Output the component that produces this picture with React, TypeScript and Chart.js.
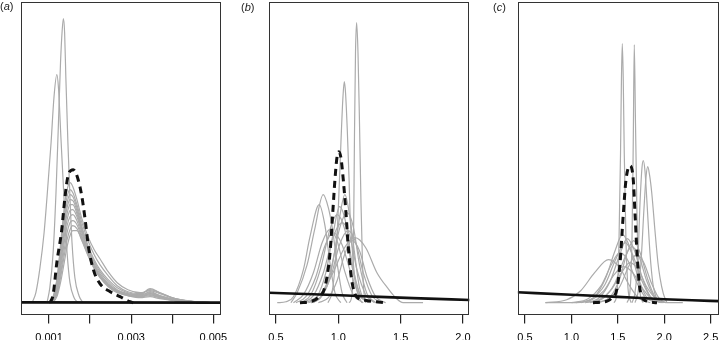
import React, { useEffect, useRef } from 'react';
import { Chart, registerables } from 'chart.js';

Chart.register(...registerables);

// ---------------- Panel (a) ----------------
const A_TICKS = [0.001, 0.002, 0.003, 0.004, 0.005];
const A_TICK_LABELS = ['0.001', '', '0.003', '', '0.005'];

const A_PEAK1_X = [0.00095, 0.00102, 0.0011, 0.00117, 0.00123, 0.00128, 0.00132, 0.00135, 0.00138, 0.00141, 0.00146, 0.00151, 0.00156, 0.00163, 0.00173, 0.00183];
const A_PEAK1_Y = [0, 15, 50, 110, 180, 240, 272, 284, 270, 225, 160, 105, 60, 25, 7, 0];
const A_PEAK2_X = [0.00059, 0.00068, 0.00078, 0.00088, 0.00095, 0.00105, 0.00112, 0.00119, 0.00123, 0.00129, 0.00137, 0.00144, 0.00151, 0.00161, 0.00171];
const A_PEAK2_Y = [0, 10, 35, 70, 105, 160, 205, 228, 215, 165, 100, 50, 20, 5, 0];

const A_GRID = [0.001, 0.0011, 0.0012, 0.00129, 0.00137, 0.00144, 0.00151, 0.00158, 0.00168, 0.0018, 0.00195, 0.0021, 0.00224, 0.00244, 0.00266, 0.00292, 0.00322, 0.00346, 0.0037, 0.00407, 0.00455, 0.00499];
const A_C1 = [0, 6, 26, 62, 95, 113, 120, 116, 103, 84, 66, 53, 44, 31, 20, 13, 10, 12, 9, 4, 1, 0];
const A_C2 = [0, 5, 24, 58, 89, 106, 113, 110, 98, 80, 62, 48, 38, 27, 17, 11, 9, 13, 10, 4, 1, 0];
const A_C3 = [0, 4, 21, 53, 83, 100, 108, 106, 95, 76, 57, 43, 33, 23, 15, 10, 8, 10, 7, 3, 1, 0];
const A_C4 = [0, 4, 19, 49, 78, 95, 103, 102, 92, 74, 55, 41, 31, 21, 13, 9, 8, 14, 10, 4, 1, 0];
const A_C5 = [0, 3, 17, 45, 72, 89, 98, 98, 89, 72, 53, 39, 29, 19, 12, 8, 7, 9, 6, 3, 1, 0];
const A_C6 = [0, 3, 15, 40, 66, 83, 92, 93, 86, 70, 51, 37, 27, 18, 11, 8, 6, 8, 5, 2, 0.5, 0];
const A_C7 = [0, 2, 13, 36, 60, 77, 86, 88, 82, 67, 50, 37, 27, 18, 12, 8, 7, 11, 7, 3, 1, 0];
const A_C8 = [0, 2, 11, 31, 53, 70, 80, 82, 78, 65, 49, 36, 26, 17, 11, 8, 6, 7, 5, 2, 0.5, 0];
const A_C9 = [0, 2, 9, 27, 47, 63, 73, 77, 74, 63, 48, 35, 26, 17, 11, 7, 6, 9, 6, 2, 0.5, 0];
const A_C10 = [0, 1, 7, 22, 40, 56, 67, 72, 72, 62, 47, 34, 25, 16, 10, 7, 5, 6, 4, 2, 0.5, 0];

const A_DASH_X = [0.00102, 0.0011, 0.00119, 0.00131, 0.00139, 0.00147, 0.00159, 0.00171, 0.0018, 0.00188, 0.00196, 0.00208, 0.00224, 0.00249, 0.00273, 0.00297, 0.00305];
const A_DASH_Y = [0, 8, 40, 73, 106, 128, 133, 123, 106, 83, 56, 33, 19, 11, 6, 1, 0];
const A_PRIOR_X = [0.0003, 0.0052];
const A_PRIOR_Y = [0.3, 0.1];

// ---------------- Panel (b) ----------------
const B_TICKS = [0.5, 1.0, 1.5, 2.0];
const B_TICK_LABELS = ['0.5', '1.0', '1.5', '2.0'];

const B_PEAK1_X = [1.086, 1.11, 1.122, 1.13, 1.138, 1.147, 1.158, 1.17, 1.182, 1.194, 1.206, 1.222];
const B_PEAK1_Y = [0, 8, 60, 170, 250, 280, 250, 180, 100, 40, 10, 0];
const B_PEAK2_X = [0.917, 0.949, 0.973, 0.997, 1.021, 1.037, 1.048, 1.058, 1.072, 1.086, 1.094, 1.114, 1.134, 1.158, 1.19];
const B_PEAK2_Y = [0, 10, 35, 85, 160, 205, 221, 210, 173, 125, 90, 50, 23, 8, 0];

const B_G1_X = [0.51, 0.58, 0.64, 0.72, 0.773, 0.847, 0.893, 0.933, 0.973, 1.02];
const B_G1_Y = [0, 1, 6, 33, 66, 98, 77, 40, 10, 0];
const B_G2_X = [0.62, 0.67, 0.75, 0.81, 0.879, 0.92, 0.95, 0.99, 1.03, 1.07];
const B_G2_Y = [0, 10, 38, 73, 108, 95, 76, 40, 10, 0];
const B_G3_X = [0.78, 0.85, 0.92, 0.97, 1.01, 1.053, 1.09, 1.13, 1.17, 1.22];
const B_G3_Y = [0, 4, 20, 50, 85, 108, 88, 50, 15, 0];
const B_G4_X = [0.64, 0.72, 0.8, 0.87, 0.93, 0.99, 1.05, 1.12, 1.2];
const B_G4_Y = [0, 8, 30, 60, 73, 62, 32, 8, 0];
const B_G5_X = [0.74, 0.85, 0.95, 1.05, 1.134, 1.22, 1.31, 1.4, 1.46, 1.52, 1.68];
const B_G5_Y = [0, 8, 28, 55, 65, 55, 30, 14, 5, 0, 0];
const B_G6_X = [0.7, 0.78, 0.86, 0.93, 0.99, 1.05, 1.11, 1.17, 1.24];
const B_G6_Y = [0, 8, 35, 72, 88, 74, 36, 9, 0];
const B_G7_X = [0.72, 0.8, 0.88, 0.96, 1.03, 1.09, 1.15, 1.22, 1.29];
const B_G7_Y = [0, 7, 30, 66, 80, 68, 33, 8, 0];
const B_G8_X = [0.8, 0.87, 0.94, 1.01, 1.07, 1.12, 1.17, 1.23, 1.3];
const B_G8_Y = [0, 7, 33, 74, 90, 76, 38, 9, 0];
const B_G9_X = [0.66, 0.74, 0.82, 0.89, 0.96, 1.03, 1.1, 1.17, 1.25];
const B_G9_Y = [0, 6, 26, 56, 70, 58, 30, 7, 0];
const B_G10_X = [0.78, 0.86, 0.94, 1.01, 1.08, 1.14, 1.2, 1.27, 1.35];
const B_G10_Y = [0, 6, 26, 58, 72, 60, 30, 7, 0];
const B_G11_X = [0.76, 0.83, 0.9, 0.96, 1.01, 1.06, 1.11, 1.17, 1.24];
const B_G11_Y = [0, 6, 30, 70, 96, 80, 40, 10, 0];
const B_G12_X = [0.84, 0.92, 0.99, 1.05, 1.11, 1.17, 1.23, 1.3, 1.38];
const B_G12_Y = [0, 5, 22, 48, 62, 52, 26, 6, 0];

const B_DASH_X = [0.692, 0.773, 0.837, 0.893, 0.933, 0.955, 0.973, 0.989, 1.005, 1.021, 1.04, 1.062, 1.08, 1.107, 1.147, 1.214, 1.294, 1.366];
const B_DASH_Y = [0, 1, 5, 16, 49, 89, 123, 145, 151, 145, 123, 89, 56, 23, 6, 2.5, 1, 0];
const B_PRIOR_X = [0.44, 0.8, 1.2, 1.6, 2.06];
const B_PRIOR_Y = [10, 8.4, 6.5, 4.6, 2.7];

// ---------------- Panel (c) ----------------
const C_TICKS = [0.5, 1.0, 1.5, 2.0, 2.5];
const C_TICK_LABELS = ['0.5', '1.0', '1.5', '2.0', '2.5'];

const C_PEAK1_X = [1.459, 1.491, 1.512, 1.529, 1.539, 1.548, 1.558, 1.569, 1.588, 1.609, 1.642];
const C_PEAK1_Y = [0, 10, 60, 150, 225, 259, 225, 150, 60, 15, 0];
const C_PEAK2_X = [1.599, 1.631, 1.652, 1.666, 1.677, 1.69, 1.704, 1.717, 1.739, 1.771];
const C_PEAK2_Y = [0, 12, 60, 160, 258, 180, 100, 40, 10, 0];
const C_PEAK3_X = [1.652, 1.685, 1.717, 1.739, 1.76, 1.774, 1.792, 1.814, 1.846, 1.879, 1.922, 1.954];
const C_PEAK3_Y = [0, 10, 45, 100, 135, 142, 132, 100, 50, 18, 3, 0];
const C_PEAK4_X = [1.685, 1.717, 1.749, 1.782, 1.803, 1.822, 1.841, 1.865, 1.9, 1.932, 1.954, 1.99, 2.029];
const C_PEAK4_Y = [0, 10, 40, 95, 125, 136, 128, 110, 72, 40, 25, 9, 0];

const C_G1_X = [0.72, 0.95, 1.1, 1.25, 1.4, 1.52, 1.62, 1.72, 1.85];
const C_G1_Y = [0, 3, 12, 30, 43, 35, 18, 5, 0];
const C_G2_X = [1.1, 1.25, 1.37, 1.47, 1.55, 1.63, 1.71, 1.8, 1.92];
const C_G2_Y = [0, 6, 25, 52, 68, 55, 28, 7, 0];
const C_G3_X = [1.15, 1.3, 1.42, 1.52, 1.6, 1.68, 1.76, 1.85, 1.96];
const C_G3_Y = [0, 5, 22, 48, 64, 52, 26, 6, 0];
const C_G4_X = [1.2, 1.35, 1.47, 1.57, 1.65, 1.73, 1.81, 1.9, 2.0];
const C_G4_Y = [0, 5, 20, 44, 56, 46, 22, 5, 0];
const C_G5_X = [0.72, 1.05, 1.22, 1.36, 1.48, 1.58, 1.66, 1.75, 1.85, 1.97];
const C_G5_Y = [0, 0, 4, 18, 44, 60, 48, 24, 6, 0];
const C_G6_X = [1.0, 1.18, 1.32, 1.43, 1.52, 1.61, 1.7, 1.8, 1.92];
const C_G6_Y = [0, 4, 17, 38, 50, 42, 21, 5, 0];
const C_G7_X = [1.25, 1.4, 1.52, 1.62, 1.7, 1.78, 1.86, 1.94, 2.03, 2.2];
const C_G7_Y = [0, 4, 16, 37, 48, 40, 20, 5, 0, 0];
const C_G8_X = [1.15, 1.3, 1.43, 1.54, 1.63, 1.72, 1.81, 1.91, 2.02];
const C_G8_Y = [0, 3, 13, 30, 40, 33, 16, 4, 0];
const C_G9_X = [1.3, 1.42, 1.52, 1.6, 1.67, 1.74, 1.82, 1.9, 1.99];
const C_G9_Y = [0, 6, 24, 50, 62, 50, 24, 6, 0];
const C_G10_X = [1.05, 1.22, 1.35, 1.46, 1.56, 1.66, 1.76, 1.86, 1.98];
const C_G10_Y = [0, 3, 12, 28, 36, 30, 15, 4, 0];

const C_DASH_X = [1.232, 1.308, 1.383, 1.437, 1.488, 1.523, 1.559, 1.588, 1.631, 1.666, 1.685, 1.703, 1.731, 1.757, 1.814, 1.922];
const C_DASH_Y = [0, 0.5, 1.5, 5, 13, 39, 89, 123, 137, 123, 89, 56, 19, 6, 1.5, 0];
const C_PRIOR_X = [0.42, 1.0, 1.5, 2.0, 2.3, 2.59];
const C_PRIOR_Y = [10.4, 8.0, 5.8, 3.5, 2.4, 1.6];

// ---------------- styling / layout ----------------
const Y_MIN = -10.8;
const Y_MAX = 300.7;
const GRAY = '#ababab';
const BLACK = '#111111';
const FONT = "'Liberation Sans', Arial, Helvetica, sans-serif";
const CANVAS_H = 356;

type Curve = [number[], number[]];

const pts = (xs: number[], ys: number[]) => xs.map((x, i) => ({ x, y: ys[i] }));

const boxPlugin = {
  id: 'rbox',
  afterDraw(chart: any) {
    const { ctx, chartArea: a } = chart;
    ctx.save();
    ctx.strokeStyle = '#333333';
    ctx.lineWidth = 1;
    ctx.strokeRect(Math.round(a.left) + 0.5, Math.round(a.top) + 0.5, Math.round(a.right - a.left) - 1, Math.round(a.bottom - a.top));
    ctx.restore();
  },
};

interface PanelProps {
  left: number;
  width: number;
  padLeft: number;
  padRight: number;
  xMin: number;
  xMax: number;
  ticks: number[];
  tickLabels: string[];
  gray: Curve[];
  dash: Curve;
  prior: Curve;
}

function Panel(p: PanelProps) {
  const ref = useRef<HTMLCanvasElement | null>(null);
  useEffect(() => {
    if (!ref.current) return;
    const datasets: any[] = [
      { data: pts(p.prior[0], p.prior[1]), borderColor: BLACK, borderWidth: 2.6, order: 0 },
      { data: pts(p.dash[0], p.dash[1]), borderColor: BLACK, borderWidth: 3, borderDash: [7, 5], order: 1 },
      ...p.gray.map((c) => ({ data: pts(c[0], c[1]), borderColor: GRAY, borderWidth: 1.2, order: 2 })),
    ];
    const chart = new Chart(ref.current, {
      type: 'line',
      data: { datasets },
      options: {
        animation: false,
        responsive: false,
        maintainAspectRatio: false,
        devicePixelRatio: 1,
        events: [],
        layout: { padding: { left: p.padLeft, right: p.padRight, top: 2, bottom: 3.3 } },
        plugins: { legend: { display: false }, tooltip: { enabled: false }, title: { display: false } },
        elements: {
          point: { radius: 0 },
          line: { cubicInterpolationMode: 'monotone', fill: false, borderJoinStyle: 'round' },
        },
        scales: {
          x: {
            type: 'linear',
            min: p.xMin,
            max: p.xMax,
            afterBuildTicks: (s: any) => {
              s.ticks = p.ticks.map((v) => ({ value: v }));
            },
            ticks: {
              autoSkip: false,
              maxRotation: 0,
              minRotation: 0,
              padding: 8,
              color: '#000000',
              font: { family: FONT, size: 11 },
              callback: (_v: any, i: number) => p.tickLabels[i],
            },
            grid: { drawOnChartArea: false, drawTicks: true, tickLength: 10, color: '#222222', lineWidth: 1.2 },
            border: { display: false },
          },
          y: { display: false, min: Y_MIN, max: Y_MAX },
        },
      } as any,
      plugins: [boxPlugin],
    });
    return () => chart.destroy();
  }, []);
  return (
    <canvas
      ref={ref}
      width={p.width}
      height={CANVAS_H}
      style={{ position: 'absolute', left: p.left, top: 0, width: p.width, height: CANVAS_H }}
    />
  );
}

const labelStyle = (left: number, top: number): React.CSSProperties => ({
  position: 'absolute',
  left,
  top,
  fontFamily: FONT,
  fontSize: 11,
  lineHeight: '13px',
  color: '#222',
});

export default function App() {
  const grayA: Curve[] = [
    [A_PEAK1_X, A_PEAK1_Y],
    [A_PEAK2_X, A_PEAK2_Y],
    [A_GRID, A_C1], [A_GRID, A_C2], [A_GRID, A_C3], [A_GRID, A_C4], [A_GRID, A_C5],
    [A_GRID, A_C6], [A_GRID, A_C7], [A_GRID, A_C8], [A_GRID, A_C9], [A_GRID, A_C10],
  ];
  const grayB: Curve[] = [
    [B_PEAK1_X, B_PEAK1_Y], [B_PEAK2_X, B_PEAK2_Y],
    [B_G1_X, B_G1_Y], [B_G2_X, B_G2_Y], [B_G3_X, B_G3_Y], [B_G4_X, B_G4_Y],
    [B_G5_X, B_G5_Y], [B_G6_X, B_G6_Y], [B_G7_X, B_G7_Y], [B_G8_X, B_G8_Y],
    [B_G9_X, B_G9_Y], [B_G10_X, B_G10_Y], [B_G11_X, B_G11_Y], [B_G12_X, B_G12_Y],
  ];
  const grayC: Curve[] = [
    [C_PEAK1_X, C_PEAK1_Y], [C_PEAK2_X, C_PEAK2_Y], [C_PEAK3_X, C_PEAK3_Y], [C_PEAK4_X, C_PEAK4_Y],
    [C_G1_X, C_G1_Y], [C_G2_X, C_G2_Y], [C_G3_X, C_G3_Y], [C_G4_X, C_G4_Y], [C_G5_X, C_G5_Y],
    [C_G6_X, C_G6_Y], [C_G7_X, C_G7_Y], [C_G8_X, C_G8_Y], [C_G9_X, C_G9_Y], [C_G10_X, C_G10_Y],
  ];
  return (
    <div style={{ position: 'fixed', left: 0, top: 0, width: 720, height: 340, overflow: 'hidden', background: '#fff' }}>
      <Panel left={0} width={240} padLeft={21} padRight={19} xMin={0.000318} xMax={0.005187}
        ticks={A_TICKS} tickLabels={A_TICK_LABELS} gray={grayA} dash={[A_DASH_X, A_DASH_Y]} prior={[A_PRIOR_X, A_PRIOR_Y]} />
      <Panel left={240} width={240} padLeft={29} padRight={10.7} xMin={0.444} xMax={2.051}
        ticks={B_TICKS} tickLabels={B_TICK_LABELS} gray={grayB} dash={[B_DASH_X, B_DASH_Y]} prior={[B_PRIOR_X, B_PRIOR_Y]} />
      <Panel left={480} width={250} padLeft={37.7} padRight={11.7} xMin={0.4214} xMax={2.582}
        ticks={C_TICKS} tickLabels={C_TICK_LABELS} gray={grayC} dash={[C_DASH_X, C_DASH_Y]} prior={[C_PRIOR_X, C_PRIOR_Y]} />
      <span style={labelStyle(0, 0)}>(<i>a</i>)</span>
      <span style={labelStyle(241, 1)}>(<i>b</i>)</span>
      <span style={labelStyle(493, 1)}>(<i>c</i>)</span>
    </div>
  );
}
